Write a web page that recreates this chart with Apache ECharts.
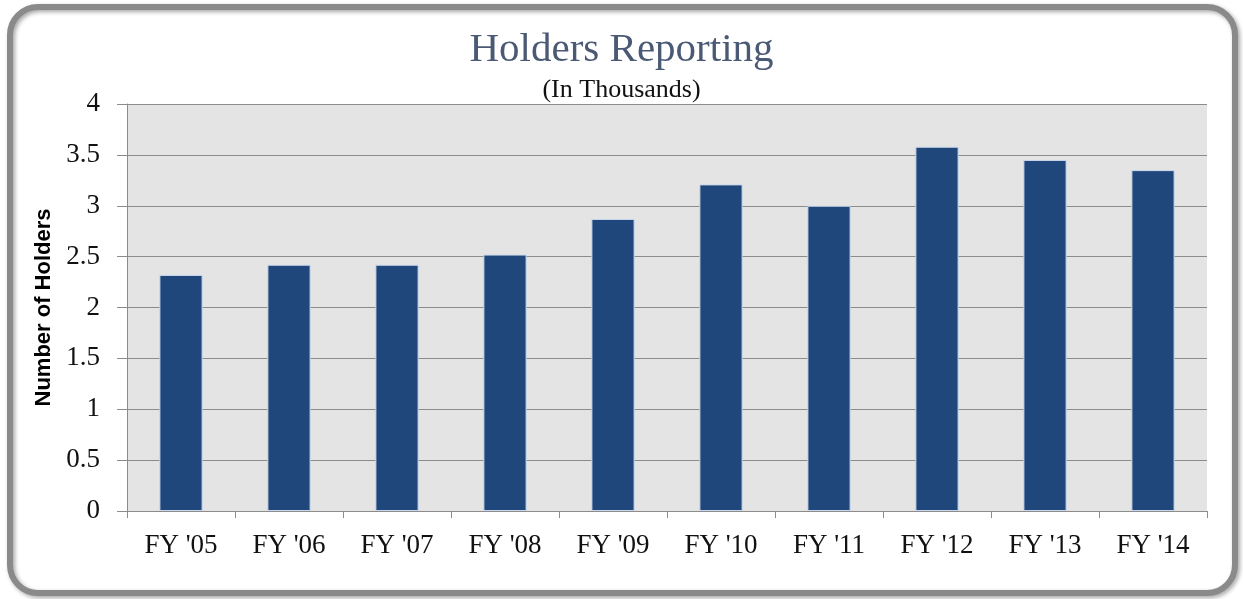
<!DOCTYPE html>
<html><head><meta charset="utf-8">
<script src="https://cdn.jsdelivr.net/npm/echarts@6/dist/echarts.min.js"></script>
<style>html,body{margin:0;padding:0;background:#fff}#c{width:1243px;height:599px}</style>
</head><body><div id="c"></div>
<script>
const categories = ["FY '05","FY '06","FY '07","FY '08","FY '09","FY '10","FY '11","FY '12","FY '13","FY '14"];
const holders = [2.32, 2.42, 2.42, 2.52, 2.87, 3.21, 3.00, 3.58, 3.45, 3.35];
const yTicks = [0, 0.5, 1, 1.5, 2, 2.5, 3, 3.5, 4];

const chart = echarts.init(document.getElementById('c'));
chart.setOption({
  backgroundColor: '#ffffff',
  animation: false,
  title: [
    {text: 'Holders Reporting', left: 'center', top: 25,
     textStyle: {fontFamily: 'Liberation Serif', fontSize: 41, fontWeight: 'normal', color: '#4b5a74'}},
    {text: '(In Thousands)', left: 'center', top: 72,
     textStyle: {fontFamily: 'Liberation Serif', fontSize: 26, fontWeight: 'normal', color: '#111'}}
  ],
  graphic: [
    {type: 'rect', z: 100, shape: {x: 10, y: 7, width: 1225, height: 586, r: 28},
     style: {fill: 'none', stroke: '#8a8a8a', lineWidth: 6,
             shadowBlur: 4, shadowColor: 'rgba(0,0,0,0.35)', shadowOffsetX: 2, shadowOffsetY: 2}}
  ],
  grid: {left: 127, right: 36, top: 104, bottom: 88, show: true, backgroundColor: '#e4e4e4', borderWidth: 0},
  xAxis: {
    type: 'category', data: categories, boundaryGap: true,
    axisLine: {lineStyle: {color: '#8c8c8c', width: 1}},
    axisTick: {show: true, alignWithLabel: false, length: 7, lineStyle: {color: '#8c8c8c'}},
    axisLabel: {fontFamily: 'Liberation Serif', fontSize: 27, color: '#111', margin: 21}
  },
  yAxis: {
    type: 'value', min: 0, max: 4, interval: 0.5,
    name: 'Number of Holders', nameLocation: 'middle', nameGap: 70,
    nameTextStyle: {fontFamily: 'Liberation Sans', fontWeight: 'bold', fontSize: 22, color: '#000'},
    axisLine: {show: true, lineStyle: {color: '#8c8c8c'}},
    axisTick: {show: true, length: 10, lineStyle: {color: '#8c8c8c'}},
    splitLine: {lineStyle: {color: '#8c8c8c', width: 1}},
    axisLabel: {fontFamily: 'Liberation Serif', fontSize: 27, color: '#111', margin: 27,
      formatter: v => yTicks.includes(v) ? String(v) : ''}
  },
  series: [{
    type: 'bar', data: holders, barWidth: '40%',
    itemStyle: {color: '#1f477c', borderColor: '#c9d7ea', borderWidth: 1}
  }]
});
</script></body></html>
